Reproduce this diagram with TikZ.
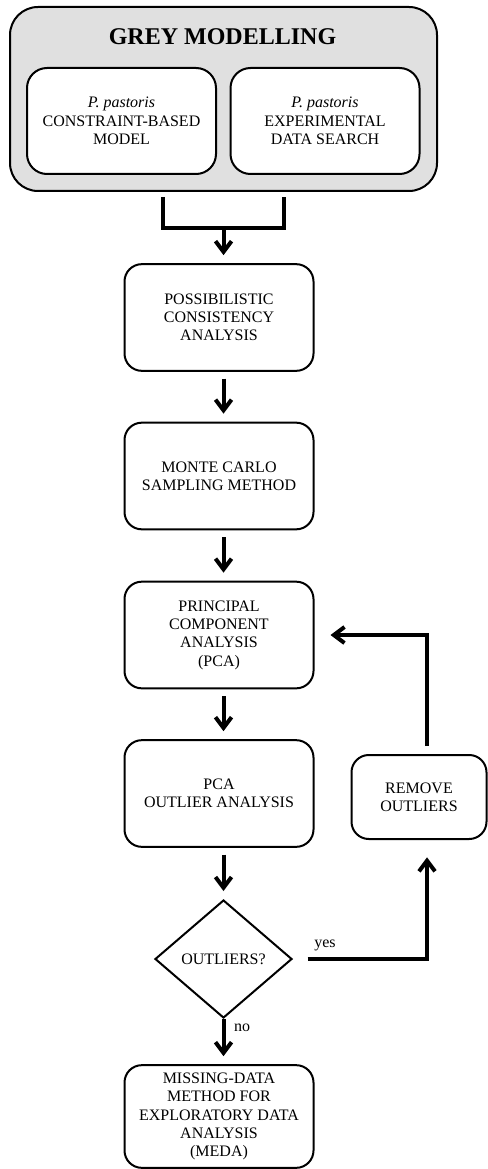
\documentclass[tikz,border=0pt]{standalone}
\usepackage{fontspec}
\setmainfont{Liberation Serif}
\usepackage{tikz}
\usepackage{xcolor}
\usetikzlibrary{calc}
\usetikzlibrary{arrows.meta}
\usetikzlibrary{shapes.geometric}

\begin{document}
\begin{tikzpicture}[x=0.75pt,y=-0.75pt]

\tikzset{
    box/.style = {
    minimum height=80pt,
    minimum width = 141.75pt
    }
}

\tikzstyle{etape}=[draw, line width=1.5pt, rounded corners=13pt, align=center, font=\fontsize{12}{13.7}\selectfont, box]
\tikzstyle{groupe}=[draw, line width=1.5pt, rounded corners=21pt, fill=black!12, minimum width=320.25pt, minimum height=138pt]
\tikzstyle{source}=[etape, fill=white, rounded corners=15pt, minimum height=79.5pt]
\tikzstyle{test}=[draw, line width=1.5pt, diamond, aspect=1.16, minimum width=102.75pt, minimum height=88.5pt, inner sep=0pt, font=\fontsize{12}{13.7}\selectfont]
\tikzstyle{lien}=[line width=3pt]
\tikzstyle{fleche}=[lien, -{Straight Barb[length=8pt,width=12pt]}, shorten <=5pt, shorten >=6pt]
\tikzstyle{etiquette}=[inner sep=0pt, font=\fontsize{12}{13.7}\selectfont]

\useasboundingbox (0,0) rectangle (488,1169);

\node (grey) [groupe] at (223.5,99) {};
\node (titre) at (222.5,37) [font=\fontsize{18}{20}\bfseries\selectfont] {GREY MODELLING};
\node (src-model) [source] at (121.5,121) {\textit{P. pastoris}\\CONSTRAINT-BASED\\MODEL};
\node (src-data) [source] at (325,121) {\textit{P. pastoris}\\EXPERIMENTAL\\DATA SEARCH};

\node (etape-1) [etape] at (219,317.5) {POSSIBILISTIC\\CONSISTENCY\\ANALYSIS};
\node (etape-2) [etape] at (219,476) {MONTE CARLO\\SAMPLING METHOD};
\node (etape-3) [etape] at (219,635) {PRINCIPAL\\COMPONENT\\ANALYSIS\\(PCA)};
\node (etape-4) [etape] at (219,793.5) {PCA\\OUTLIER ANALYSIS};
\node (outliers) [test] at (223.5,959) {OUTLIERS?};
\node (etape-5) [etape, minimum height=77pt] at (219,1116.5) {MISSING-DATA\\METHOD FOR\\EXPLORATORY DATA\\ANALYSIS\\(MEDA)};
\node (remove) [etape, minimum width=101.25pt, minimum height=63pt] at (419,797) {REMOVE\\OUTLIERS};

\coordinate (axe) at (223.5,0);
\coordinate (boucle) at (427,0);
\coordinate (b-left) at (163,197);
\coordinate (b-right) at (284,197);
\coordinate (b-join) at (223.5,228);

\draw[lien] (b-left) |- (b-join) -| (b-right);
\draw[fleche, shorten <=0pt] (b-join) -- (etape-1.north -| axe);

\draw[fleche] (etape-1.south -| axe) -- (etape-2.north -| axe);
\draw[fleche] (etape-2.south -| axe) -- (etape-3.north -| axe);
\draw[fleche] (etape-3.south -| axe) -- (etape-4.north -| axe);
\draw[fleche] (etape-4.south -| axe) -- (outliers.north);
\draw[fleche, shorten <=0pt] (outliers.south) -- (etape-5.north -| axe);

\draw[fleche, shorten <=11pt, shorten >=13pt] (outliers.east) -| (remove.south -| boucle);
\draw[fleche, shorten <=6pt, shorten >=12pt] (remove.north -| boucle) |- (etape-3.east);

\node (oui) [etiquette] at (325,945) {yes};
\node (non) [etiquette] at (242,1028) {no};

\end{tikzpicture}
\end{document}
